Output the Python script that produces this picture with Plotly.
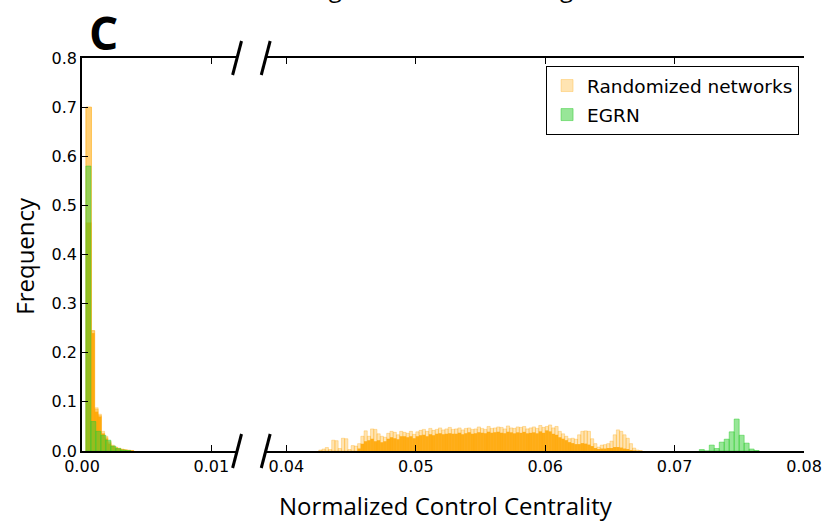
import numpy as np
import plotly.graph_objects as go

# ---------------- data ----------------
y_tick_vals = [0.0, 0.1, 0.2, 0.3, 0.4, 0.5, 0.6, 0.7, 0.8]
left_tick_vals = [0.00, 0.01]
right_tick_vals = [0.04, 0.05, 0.06, 0.07, 0.08]

# Randomized networks, left panel (explicit bin edges)
rand_left_edges = [0.0003, 0.00073, 0.00098, 0.00125, 0.0015, 0.00175, 0.002,
                   0.00225, 0.0025, 0.00275, 0.003, 0.00325, 0.0035, 0.00375, 0.004]
rand_left_light = [0.70, 0.245, 0.088, 0.075, 0.040, 0.030, 0.020, 0.012, 0.008,
                   0.006, 0.004, 0.003, 0.002, 0.001]
rand_left_mid = [0.70, 0.245, 0.085, 0.072, 0.036, 0.027, 0.017, 0.010, 0.007,
                 0.005, 0.003, 0.002, 0.001, 0.0005]
rand_left_core = [0.465, 0.240, 0.080, 0.070, 0.035, 0.025, 0.015, 0.010, 0.006,
                  0.004, 0.003, 0.002, 0.001, 0.0005]

# Randomized networks, right panel (uniform bins)
rand_right_start = 0.0425
rand_right_width = 0.00025
rand_right_light = [
    0.002, 0.004, 0.007, 0.003, 0.022, 0.021, 0.005, 0.026, 0.025, 0.003,
    0.011, 0.010, 0.015, 0.030, 0.041, 0.030, 0.045, 0.044, 0.035, 0.030,
    0.028, 0.036, 0.040, 0.038, 0.033, 0.040, 0.038, 0.036, 0.040, 0.034,
    0.039, 0.042, 0.044, 0.040, 0.046, 0.042, 0.044, 0.047, 0.043, 0.045,
    0.048, 0.044, 0.045, 0.047, 0.043, 0.046, 0.047, 0.044, 0.045, 0.049,
    0.046, 0.044, 0.050, 0.046, 0.047, 0.049, 0.048, 0.045, 0.051, 0.047,
    0.046, 0.049, 0.048, 0.050, 0.045, 0.047, 0.049, 0.046, 0.052, 0.048,
    0.050, 0.053, 0.047, 0.050, 0.040, 0.035, 0.030, 0.025, 0.026, 0.024,
    0.033, 0.040, 0.041, 0.040, 0.025, 0.015, 0.008, 0.012, 0.013, 0.015,
    0.020, 0.033, 0.043, 0.040, 0.033, 0.026, 0.015, 0.006, 0.002, 0.001]
rand_right_core = [
    0.000, 0.000, 0.000, 0.000, 0.000, 0.000, 0.000, 0.000, 0.000, 0.000,
    0.000, 0.000, 0.005, 0.015, 0.020, 0.022, 0.025, 0.020, 0.022, 0.018,
    0.020, 0.025, 0.028, 0.026, 0.024, 0.030, 0.030, 0.028, 0.030, 0.026,
    0.030, 0.032, 0.033, 0.030, 0.034, 0.032, 0.035, 0.036, 0.034, 0.035,
    0.036, 0.035, 0.035, 0.037, 0.034, 0.036, 0.038, 0.035, 0.036, 0.038,
    0.037, 0.036, 0.039, 0.037, 0.038, 0.039, 0.037, 0.036, 0.039, 0.038,
    0.036, 0.038, 0.037, 0.039, 0.036, 0.037, 0.038, 0.036, 0.040, 0.037,
    0.042, 0.040, 0.035, 0.033, 0.028, 0.025, 0.022, 0.018, 0.016, 0.014,
    0.014, 0.016, 0.015, 0.013, 0.010, 0.006, 0.004, 0.005, 0.005, 0.006,
    0.006, 0.008, 0.008, 0.007, 0.005, 0.004, 0.002, 0.001, 0.000, 0.000]

# EGRN
egrn_width = 0.000385
egrn_left_start = 0.0003
egrn_left = [0.58, 0.060, 0.040, 0.032, 0.022, 0.010, 0.005, 0.002, 0.001]
egrn_right_start = 0.07191
egrn_right = [0.003, 0.0, 0.012, 0.005, 0.018, 0.024, 0.039, 0.065, 0.032,
              0.016, 0.004, 0.001]


def from_edges(edges):
    e = np.array(edges)
    return (e[:-1] + e[1:]) / 2, np.diff(e)


def uniform(start, width, n):
    e = start + width * np.arange(n + 1)
    return from_edges(e)


ORANGE_LIGHT = "rgba(255,165,0,0.30)"
ORANGE_MID = "rgba(255,165,0,0.35)"
ORANGE_CORE = "rgba(255,165,0,0.88)"
GREEN = "rgba(50,205,50,0.5)"

fig = go.Figure()

rl_c, rl_w = from_edges(rand_left_edges)
rr_c, rr_w = uniform(rand_right_start, rand_right_width, len(rand_right_light))
el_c, el_w = uniform(egrn_left_start, egrn_width, len(egrn_left))
er_c, er_w = uniform(egrn_right_start, egrn_width, len(egrn_right))


def add(xc, w, y, color, xaxis, name, show, group, lw=1):
    fig.add_trace(go.Bar(
        x=xc, y=y, width=w, xaxis=xaxis, yaxis="y",
        marker=dict(color=color, line=dict(color=color, width=lw)),
        name=name, showlegend=show, legendgroup=group))


add(rl_c, rl_w, rand_left_light, ORANGE_LIGHT, "x", "Randomized networks", True, "r")
add(rl_c, rl_w, rand_left_mid, ORANGE_MID, "x", "Randomized networks", False, "r")
add(rl_c, rl_w, rand_left_core, ORANGE_CORE, "x", "Randomized networks", False, "r", 0)
add(rr_c, rr_w, rand_right_light, ORANGE_LIGHT, "x2", "Randomized networks", False, "r")
add(rr_c, rr_w, rand_right_core, ORANGE_CORE, "x2", "Randomized networks", False, "r", 0)
add(el_c, el_w, egrn_left, GREEN, "x", "EGRN", True, "g")
add(er_c, er_w, egrn_right, GREEN, "x2", "EGRN", False, "g")

# ---------------- layout ----------------
L, R, T, B = 82, 21, 58, 70
W, H = 834, 521
pw, ph = W - L - R, H - T - B
left_end_px, right_start_px = 239, 268
d1 = (left_end_px - L) / pw
d2 = (right_start_px - L) / pw

tickfont = dict(family="DejaVu Sans", size=16, color="black")
axis_common = dict(ticks="inside", ticklen=6, tickwidth=1, tickcolor="black",
                   showline=True, linecolor="black", linewidth=1.5,
                   showgrid=False, zeroline=False, tickfont=tickfont)

fig.update_layout(
    width=W, height=H,
    margin=dict(l=L, r=R, t=T, b=B),
    paper_bgcolor="white", plot_bgcolor="white",
    barmode="overlay",
    xaxis=dict(domain=[0, d1], range=[0, 0.011985], anchor="y",
               tickvals=left_tick_vals, ticktext=[f"{v:.2f}" for v in left_tick_vals],
               mirror="ticks", **axis_common),
    xaxis2=dict(domain=[d2, 1], range=[0.0384, 0.08], anchor="y",
                tickvals=right_tick_vals, ticktext=[f"{v:.2f}" for v in right_tick_vals],
                mirror="ticks", **axis_common),
    yaxis=dict(domain=[0, 1], range=[0, 0.8], anchor="x",
               tickvals=y_tick_vals, ticktext=[f"{v:.1f}" for v in y_tick_vals],
               **axis_common),
    yaxis2=dict(domain=[0, 1], range=[0, 0.8], anchor="x2", overlaying="y",
                side="right", tickvals=y_tick_vals, showticklabels=False,
                **axis_common),
    legend=dict(x=(808 - L) / pw, y=(H - B - 66) / ph, xanchor="right", yanchor="top",
                bordercolor="black", borderwidth=1, bgcolor="white",
                font=dict(family="DejaVu Sans", size=18.5, color="black"),
                tracegroupgap=2),
    showlegend=True,
)

# break marks
shapes = []
for px in (left_end_px, right_start_px):
    xc = (px - L) / pw
    for py in (T, H - B):
        yc = (H - B - py) / ph
        shapes.append(dict(type="line", xref="paper", yref="paper",
                           x0=xc - 4.5 / pw, y0=yc - 17 / ph,
                           x1=xc + 4.5 / pw, y1=yc + 17 / ph,
                           line=dict(color="black", width=3)))
fig.update_layout(shapes=shapes)

def px2x(px):
    return (px - L) / pw

def py2y(py):
    return (H - B - py) / ph

annotations = [
    dict(text="Normalized Control Centrality", x=px2x(451), y=py2y(505),
         xref="paper", yref="paper", showarrow=False, xanchor="center", yanchor="middle",
         font=dict(family="Open Sans", size=24, color="black")),
    dict(text="Frequency", x=px2x(24), y=py2y(256), textangle=-90,
         xref="paper", yref="paper", showarrow=False, xanchor="center", yanchor="middle",
         font=dict(family="Open Sans", size=24, color="black")),
    dict(text="<b>C</b>", x=px2x(104), y=py2y(32),
         xref="paper", yref="paper", showarrow=False, xanchor="center", yanchor="middle",
         font=dict(family="Open Sans", size=46, color="black")),
    dict(text="Average Shortest Path Length", x=px2x(435), y=py2y(6),
         xref="paper", yref="paper", showarrow=False, xanchor="center", yanchor="bottom",
         font=dict(family="Open Sans", size=24, color="black")),
]
fig.update_layout(annotations=annotations)

fig.write_html("out.html")
